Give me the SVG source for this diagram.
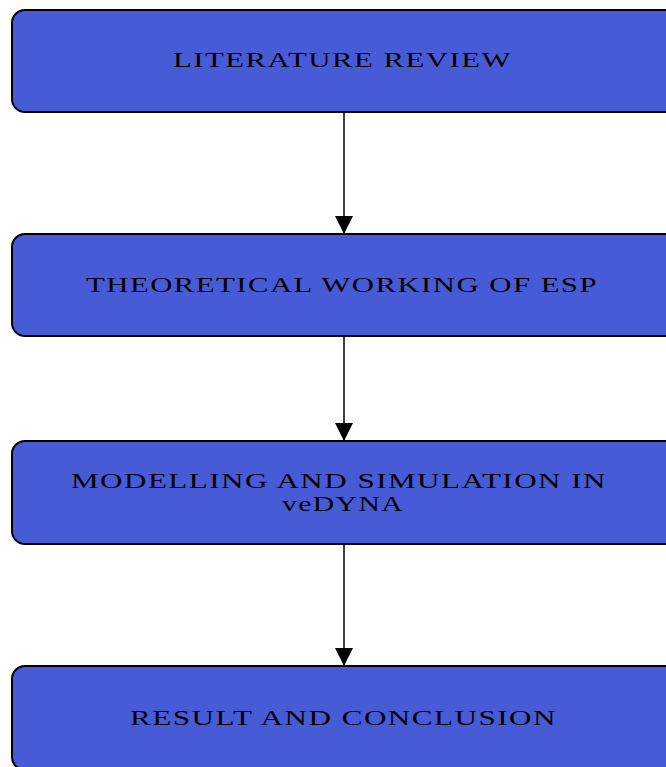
<svg xmlns="http://www.w3.org/2000/svg" width="666" height="767" viewBox="0 0 666 767">
<style>
.box{fill:#485bd6;stroke:#000;stroke-width:2}
.lbl{font-family:"Liberation Serif","Times New Roman",serif;font-size:21px;fill:#000;letter-spacing:1px}
.con{stroke:#000;stroke-width:1.5;fill:none}
</style>
<defs>
<marker id="ah" markerWidth="18" markerHeight="18" viewBox="0 0 18 18" refX="18" refY="9" orient="auto" markerUnits="userSpaceOnUse">
<path d="M0,0 L18,9 L0,18 z" fill="#000"/>
</marker>
</defs>
<rect width="666" height="767" fill="#fff"/>
<g id="connectors">
<line class="con" x1="344" y1="112" x2="344" y2="234" marker-end="url(#ah)"/>
<line class="con" x1="344" y1="336" x2="344" y2="441" marker-end="url(#ah)"/>
<line class="con" x1="344" y1="544" x2="344" y2="666" marker-end="url(#ah)"/>
</g>
<g id="n1">
<rect class="box" x="12" y="10" width="666" height="102" rx="13"/>
<text class="lbl" x="173" y="67" textLength="339" lengthAdjust="spacingAndGlyphs">LITERATURE REVIEW</text>
</g>
<g id="n2">
<rect class="box" x="12" y="234" width="666" height="102" rx="13"/>
<text class="lbl" x="86" y="292" textLength="512" lengthAdjust="spacingAndGlyphs">THEORETICAL WORKING OF ESP</text>
</g>
<g id="n3">
<rect class="box" x="12" y="441" width="666" height="103" rx="13"/>
<text class="lbl" x="71" y="488" textLength="536" lengthAdjust="spacingAndGlyphs">MODELLING AND SIMULATION IN</text>
<text class="lbl" x="282" y="511" textLength="122" lengthAdjust="spacingAndGlyphs">veDYNA</text>
</g>
<g id="n4">
<rect class="box" x="12" y="666" width="666" height="104" rx="13"/>
<text class="lbl" x="130" y="725" textLength="427" lengthAdjust="spacingAndGlyphs">RESULT AND CONCLUSION</text>
</g>
</svg>
